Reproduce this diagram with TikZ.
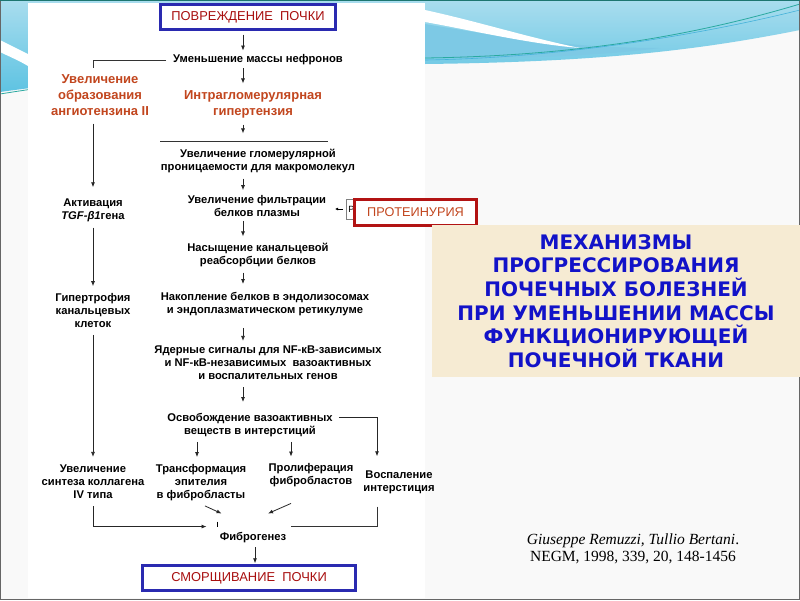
\documentclass[tikz,border=0pt]{standalone}
\usepackage{fontspec}
\setmainfont{Liberation Sans}
\newfontfamily\dvfont{DejaVu Sans}
\newfontfamily\citefont{Liberation Serif}
\usetikzlibrary{arrows.meta,calc}
\definecolor{boxblue}{HTML}{2A2AB0}
\definecolor{darkred}{HTML}{A80F0F}
\definecolor{rust}{HTML}{C2461E}
\definecolor{protred}{HTML}{B21313}
\definecolor{titleblue}{HTML}{1212C8}
\definecolor{beige}{HTML}{F6EBD3}
\definecolor{slidebg}{HTML}{F9F9F9}
\definecolor{wave1}{HTML}{A9DDEE}
\definecolor{wave2}{HTML}{5EC3E2}
\definecolor{wavedark}{HTML}{45B2DA}
\definecolor{teal}{HTML}{2AA9A0}
\tikzset{
  txt/.style={font=\bfseries\fontsize{11.2}{13}\selectfont, align=center, inner sep=1pt},
  rtxt/.style={txt, text=rust, font=\bfseries\fontsize{13}{16}\selectfont},
  bigbox/.style={draw=boxblue, line width=2.4pt, fill=white, minimum height=25pt, text=darkred, font=\fontsize{12.9}{14}\selectfont, inner sep=0pt},
  arr/.style={line width=0.8pt, draw=black!85, -{Latex[length=5pt,width=4pt]}},
  ln/.style={line width=0.8pt, draw=black!80},
}
\begin{document}
\begin{tikzpicture}[x=1pt,y=-1pt]
\useasboundingbox (0,0) rectangle (800,600);
% slide background
\fill[slidebg] (0,0) rectangle (800,600);
\shade[top color=wave1, bottom color=wave2] (0,0) -- (800,0) -- (800,30) .. controls (700,50) and (600,62) .. (425,64) .. controls (250,66) and (100,78) .. (0,92) -- cycle;
\fill[wavedark!70] (425,24) .. controls (520,40) and (580,48) .. (660,48) .. controls (600,56) and (500,60) .. (425,57) -- cycle;
\fill[white] (425,10) .. controls (480,22) and (530,38) .. (580,48) .. controls (530,44) and (470,30) .. (425,22) -- cycle;
\fill[white] (0,40) .. controls (10,45) and (20,50) .. (28,54) -- (28,66) .. controls (18,60) and (8,56) .. (0,52) -- cycle;
\draw[teal, line width=0.8pt] (0,94) .. controls (150,70) and (300,60) .. (425,58) .. controls (560,56) and (680,40) .. (800,4);
\draw[wavedark, line width=0.6pt] (425,60) .. controls (560,58) and (700,35) .. (800,10);
\draw[gray!80!black, line width=1.2pt] (0.6,0) -- (0.6,599.4) -- (799.4,599.4) -- (799.4,0);
\draw[teal!70!black, line width=1pt] (0,0.5) -- (800,0.5);
% left white panel
\fill[white] (28,3) rectangle (425,598);

\coordinate (spine) at (243,0);
\coordinate (lcol) at (93,0);

% nodes
\node[bigbox, minimum width=175pt] (top) at (248,17) {ПОВРЕЖДЕНИЕ\ \ ПОЧКИ};
\node[txt] (nef) at (258,60) {Уменьшение массы нефронов};
\node[rtxt] (ang) at (100,95) {Увеличение\\образования\\ангиотензина II};
\node[rtxt] (hyp) at (253,104.5) {Интрагломерулярная\\гипертензия};
\node[txt] (perm) at (258,160.5) {Увеличение гломерулярной\\проницаемости для макромолекул};
\node[txt] (filt) at (257,206) {Увеличение фильтрации\\белков плазмы};
\node[draw=gray, fill=white, line width=0.6pt, minimum width=17pt, minimum height=20pt, inner sep=0pt, font=\fontsize{9}{10}\selectfont, anchor=west, text width=13pt] (pbox) at (346,209) {Р};
\node[draw=protred, line width=2.6pt, fill=white, minimum width=122pt, minimum height=26pt, inner sep=0pt, text=rust, font=\fontsize{12.7}{13}\selectfont] (prot) at (415.5,212.5) {ПРОТЕИНУРИЯ};
\node[txt] (sat) at (258,254.5) {Насыщение канальцевой\\реабсорбции белков};
\node[txt] (acc) at (265,304) {Накопление белков в эндолизосомах\\и эндоплазматическом ретикулуме};
\node[txt] (nuc) at (268,363) {Ядерные сигналы для NF-кВ-зависимых\\и NF-кВ-независимых\ \ вазоактивных\\и воспалительных генов};
\node[txt] (rel) at (250,425) {Освобождение вазоактивных\\веществ в интерстиций};
\node[txt] (tgf) at (93,210) {Активация\\\textit{TGF-β1}гена};
\node[txt] (hyt) at (93,310.5) {Гипертрофия\\канальцевых\\клеток};
\node[txt] (col) at (93,482) {Увеличение\\синтеза коллагена\\IV типа};
\node[txt] (tra) at (201,482.5) {Трансформация\\эпителия\\в фибробласты};
\node[txt] (pro) at (311,475.5) {Пролиферация\\фибробластов};
\node[txt] (inf) at (399,482) {Воспаление\\интерстиция};
\node[txt] (fib) at (253,538) {Фиброгенез};
\node[bigbox, minimum width=213pt] (bot) at (249,578) {СМОРЩИВАНИЕ\ \ ПОЧКИ};

% right title
\node[fill=beige, minimum width=368pt, minimum height=152pt, anchor=north west, inner sep=0pt] (titlebg) at (432,225) {};
\node[text=titleblue, font=\dvfont\bfseries\fontsize{20}{23.6}\selectfont, align=center] (title) at (616,301) {МЕХАНИЗМЫ\\ПРОГРЕССИРОВАНИЯ\\ПОЧЕЧНЫХ БОЛЕЗНЕЙ\\ПРИ УМЕНЬШЕНИИ МАССЫ\\ФУНКЦИОНИРУЮЩЕЙ\\ПОЧЕЧНОЙ ТКАНИ};
\node[font=\citefont\fontsize{15.5}{17}\selectfont, align=center] (cite) at (633,549) {\textit{Giuseppe Remuzzi, Tullio Bertani}.\\NEGM, 1998, 339, 20, 148-1456};

% main spine arrows
\draw[arr] ($(top.south -| spine)+(0,4)$) -- ($(nef.north -| spine)+(0,-3)$);
\draw[arr] ($(nef.south -| spine)+(0,2)$) -- ($(hyp.north -| spine)+(0,-6)$);
\draw[arr] ($(hyp.south -| spine)+(0,5)$) -- ($(perm.north -| spine)+(0,-14)$);
\draw[ln] ($(perm.north -| 160,0)+(0,-6)$) -- ($(perm.north -| 328,0)+(0,-6)$);
\draw[arr] ($(perm.south -| spine)+(0,5)$) -- ($(filt.north -| spine)+(0,-4)$);
\draw[arr] ($(filt.south -| spine)+(0,3)$) -- ($(sat.north -| spine)+(0,-5)$);
\draw[arr] ($(sat.south -| spine)+(0,5)$) -- ($(acc.north -| spine)+(0,-7)$);
\draw[arr] ($(acc.south -| spine)+(0,11)$) -- ($(nuc.north -| spine)+(0,-4)$);
\draw[arr] ($(nuc.south -| spine)+(0,6)$) -- ($(rel.north -| spine)+(0,-10)$);
\draw[line width=0.8pt, -{Latex[length=3pt,width=3pt]}] ($(pbox.west)+(-3,0)$) -- ($(pbox.west)+(-11,0)$);
% left column
\draw[ln] ($(nef.west)+(-6,0)$) -- (nef.west -| lcol) -- ($(ang.north -| lcol)+(0,-5)$);
\draw[arr] ($(ang.south -| lcol)+(0,7)$) -- ($(tgf.north -| lcol)+(0,-10)$);
\draw[arr] ($(tgf.south -| lcol)+(0,5)$) -- ($(hyt.north -| lcol)+(0,-6)$);
\draw[arr] ($(hyt.south -| lcol)+(0,6)$) -- ($(col.north -| lcol)+(0,-7)$);
% release to bottom row
\draw[arr] ($(rel.south -| 197,0)+(0,4)$) -- ($(tra.north -| 197,0)+(0,-6)$);
\draw[arr] ($(rel.south -| 291,0)+(0,4)$) -- ($(pro.north -| 291,0)+(0,-6)$);
\draw[ln, arr] ($(rel.east)+(5,-8)$) -| ($(inf.north -| 377,0)+(0,-13)$);
% to fibrogenesis
\draw[arr] ($(col.south -| lcol)+(0,6)$) |- ($(fib.north west)+(-12,-5)$);
\draw[arr] ($(tra.south)+(4,4)$) -- ($(fib.north west)+(3,-18)$);
\draw[arr] ($(pro.south)+(-20,15)$) -- ($(fib.north)+(15,-18)$);
\draw[ln] ($(inf.south -| 377,0)+(0,12)$) |- ($(fib.north east)+(4,-5)$);
\draw[line width=0.6pt] ($(fib.north west)+(-1,-10)$) -- ($(fib.north west)+(-1,-5)$);
\draw[arr] ($(fib.south -| 255,0)+(0,3)$) -- ($(bot.north -| 255,0)+(0,-1)$);
\end{tikzpicture}
\end{document}
